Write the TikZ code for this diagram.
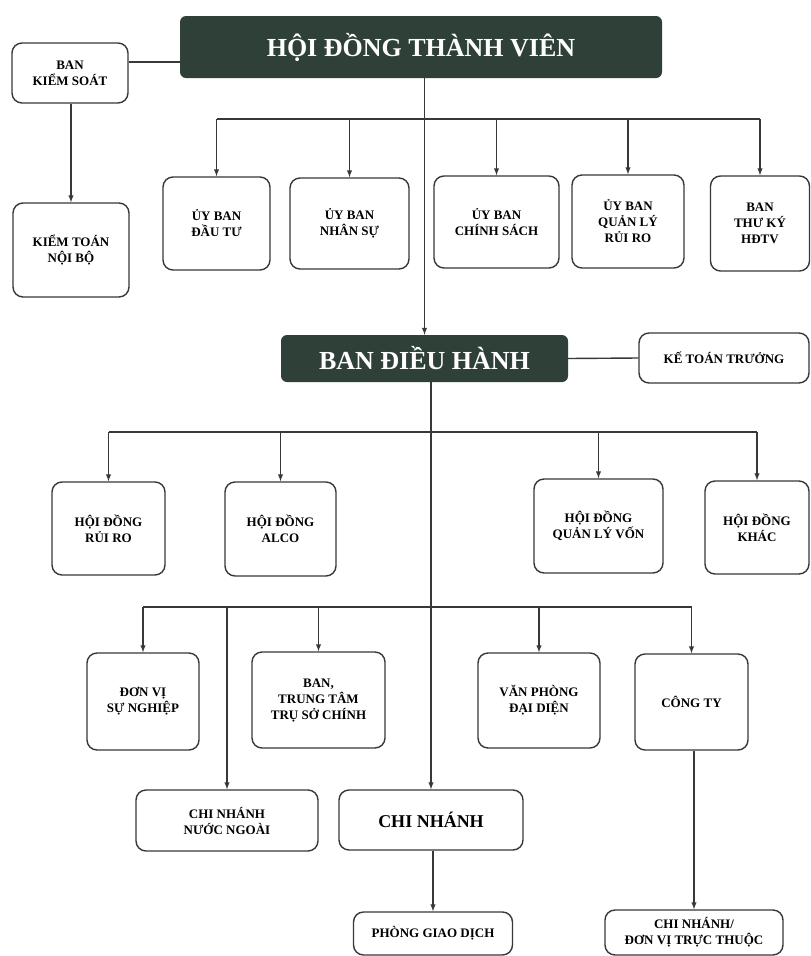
\documentclass[tikz,border=0pt]{standalone}
\usepackage{fontspec}
\setmainfont{Liberation Serif}
\usetikzlibrary{arrows}
\definecolor{boardgreen}{HTML}{2F4039}
\definecolor{inkgray}{HTML}{383838}

\begin{document}
\begin{tikzpicture}[x=1pt, y=-1pt,
    unit/.style={draw=inkgray, line width=1.4pt, rounded corners=10pt, fill=white, align=center, inner sep=0pt, font=\fontsize{13}{16}\selectfont\bfseries},
    board/.style={fill=boardgreen, rounded corners=6pt, text=white, inner sep=0pt, font=\fontsize{26}{30}\selectfont\bfseries},
    wire/.style={draw=inkgray, line width=1.4pt},
    feed/.style={wire, -latex}]
    \useasboundingbox (0, 0) rectangle (811, 956);

    \node [board, minimum width=482pt, minimum height=62pt] (hdtv) at (421, 47) {HỘI ĐỒNG THÀNH VIÊN};
    \node [unit, minimum width=116pt, minimum height=60pt] (bks) at (70, 73) {BAN\\KIỂM SOÁT};
    \node [unit, minimum width=116pt, minimum height=94pt] (ktnb) at (71, 250) {KIỂM TOÁN\\NỘI BỘ};
    \coordinate (tie) at (150, 62);
    \draw [wire] (bks.east |- tie) -- (hdtv.west |- tie);
    \draw [feed] (ktnb.north |- bks.south) -- (ktnb.north);

    \node [unit, minimum width=107pt, minimum height=93pt] (ubdt) at (216.5, 223.5) {ỦY BAN\\ĐẦU TƯ};
    \node [unit, minimum width=119pt, minimum height=91pt] (ubns) at (349.5, 223.5) {ỦY BAN\\NHÂN SỰ};
    \node [unit, minimum width=125pt, minimum height=92pt] (ubcs) at (496.5, 222) {ỦY BAN\\CHÍNH SÁCH};
    \node [unit, minimum width=112pt, minimum height=93pt] (ubqlrr) at (628, 221.5) {ỦY BAN\\QUẢN LÝ\\RỦI RO};
    \node [unit, minimum width=99pt, minimum height=95pt] (btk) at (760, 223.5) {BAN\\THƯ KÝ\\HĐTV};
    \coordinate (bus1) at (425, 119);
    \draw [wire] (ubdt.north |- bus1) -- (btk.north |- bus1);
    \draw [feed] (ubdt.north |- bus1) -- (ubdt.north);
    \draw [feed] (ubns.north |- bus1) -- (ubns.north);
    \draw [feed] (ubcs.north |- bus1) -- (ubcs.north);
    \draw [feed] (ubqlrr.north |- bus1) -- (ubqlrr.north);
    \draw [feed] (btk.north |- bus1) -- (btk.north);

    \node [board, minimum width=287pt, minimum height=47pt] (bdh) at (424.5, 358.5) {BAN ĐIỀU HÀNH};
    \node [unit, minimum width=170pt, minimum height=50pt] (ktt) at (724, 358) {KẾ TOÁN TRƯỞNG};
    \draw [feed] (bdh.north |- hdtv.south) -- (bdh.north);
    \draw [wire] (bdh.east) -- (ktt.west);

    \node [unit, minimum width=113pt, minimum height=93pt] (hdrr) at (108.5, 528.5) {HỘI ĐỒNG\\RỦI RO};
    \node [unit, minimum width=111pt, minimum height=94pt] (alco) at (280.5, 529) {HỘI ĐỒNG\\ALCO};
    \node [unit, minimum width=129pt, minimum height=94pt] (hdqlv) at (598.5, 526) {HỘI ĐỒNG\\QUẢN LÝ VỐN};
    \node [unit, minimum width=104pt, minimum height=93pt] (hdk) at (757, 527.5) {HỘI ĐỒNG\\KHÁC};
    \coordinate (bus2) at (430, 432);
    \draw [wire] (hdrr.north |- bus2) -- (hdk.north |- bus2);
    \draw [feed] (hdrr.north |- bus2) -- (hdrr.north);
    \draw [feed] (alco.north |- bus2) -- (alco.north);
    \draw [feed] (hdqlv.north |- bus2) -- (hdqlv.north);
    \draw [feed] (hdk.north |- bus2) -- (hdk.north);

    \node [unit, minimum width=112pt, minimum height=97pt] (dvsn) at (143, 701.5) {ĐƠN VỊ\\SỰ NGHIỆP};
    \node [unit, minimum width=133pt, minimum height=96pt] (bttsc) at (318.5, 700) {BAN,\\TRUNG TÂM\\TRỤ SỞ CHÍNH};
    \node [unit, minimum width=122pt, minimum height=95pt] (vpdd) at (539, 700.5) {VĂN PHÒNG\\ĐẠI DIỆN};
    \node [unit, minimum width=113pt, minimum height=96pt] (cty) at (691.5, 702) {CÔNG TY};
    \node [unit, minimum width=182pt, minimum height=61pt] (cnnn) at (227, 820.5) {CHI NHÁNH\\NƯỚC NGOÀI};
    \node [unit, minimum width=184pt, minimum height=60pt, font=\fontsize{18}{22}\selectfont\bfseries] (cn) at (431, 820) {CHI NHÁNH};
    \coordinate (bus3) at (430, 607);
    \draw [wire] (dvsn.north |- bus3) -- (cty.north |- bus3);
    \draw [feed] (dvsn.north |- bus3) -- (dvsn.north);
    \draw [feed] (cnnn.north |- bus3) -- (cnnn.north);
    \draw [feed] (bttsc.north |- bus3) -- (bttsc.north);
    \draw [feed] (vpdd.north |- bus3) -- (vpdd.north);
    \draw [feed] (cty.north |- bus3) -- (cty.north);
    \draw [feed] (cn.north |- bdh.south) -- (cn.north);

    \node [unit, minimum width=159pt, minimum height=43pt] (pgd) at (433, 933.5) {PHÒNG GIAO DỊCH};
    \node [unit, minimum width=178pt, minimum height=45pt] (cndv) at (694, 932.5) {CHI NHÁNH/\\ĐƠN VỊ TRỰC THUỘC};
    \draw [feed] (pgd.north |- cn.south) -- (pgd.north);
    \draw [feed] (cndv.north |- cty.south) -- (cndv.north);
  \end{tikzpicture}
\end{document}
